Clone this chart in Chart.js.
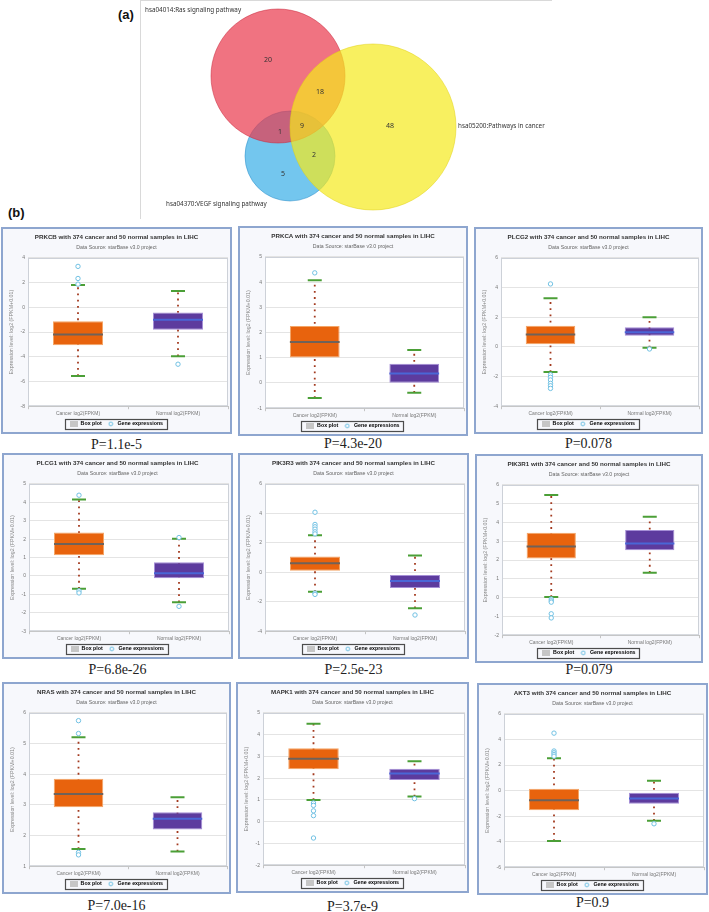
<!DOCTYPE html>
<html>
<head>
<meta charset="utf-8">
<script src="https://cdn.jsdelivr.net/npm/chart.js@4.4.1/dist/chart.umd.min.js"></script>
<style>
  body { margin: 0; background: #fff; width: 709px; height: 912px; position: relative; overflow: hidden; }
  .tag { position: absolute; font: bold 13px "Liberation Sans", Arial, sans-serif; color: #111; }
  .panel { position: absolute; border: 2px solid #8ea6cf; background: #f7f8fc; box-sizing: border-box; }
  .panel canvas { position: absolute; left: 0; top: 0; }
  .pval { position: absolute; text-align: center; font: 14px/16px "Liberation Serif", "Times New Roman", serif; color: #222; }
  #vennBox { position: absolute; left: 140px; top: 0; width: 411px; height: 218px; border-left: 1px solid #d9d9d9; border-top: 1px solid #d9d9d9; }
  #venn { position: absolute; left: 0; top: 0; }
</style>
</head>
<body>
<div class="tag" style="left:118px;top:7px">(a)</div>
<div class="tag" style="left:8px;top:205px">(b)</div>
<div id="vennBox"><canvas id="venn" width="420" height="218"></canvas></div>

<script>
// venn diagram (a)
const vennSets = ['hsa04014:Ras signaling pathway', 'hsa05200:Pathways in cancer', 'hsa04370:VEGF signaling pathway'];
// Ras only, Cancer only, VEGF only, Ras&Cancer, Ras&VEGF, Cancer&VEGF, all three
const vennRegionCounts = [20, 48, 5, 18, 1, 2, 9];

// box plots (b)
const genes = ['PRKCB', 'PRKCA', 'PLCG2', 'PLCG1', 'PIK3R3', 'PIK3R1', 'NRAS', 'MAPK1', 'AKT3'];
const pValues = ['P=1.1e-5', 'P=4.3e-20', 'P=0.078', 'P=6.8e-26', 'P=2.5e-23', 'P=0.079', 'P=7.0e-16', 'P=3.7e-9', 'P=0.9'];
const groups = ['Cancer log2(FPKM)', 'Normal log2(FPKM)'];

// [lower whisker, Q1, median, Q3, upper whisker]
const cancerBox = [
  [-5.55, -3.07, -2.2, -1.12, 1.82],
  [-0.6, 1.01, 1.63, 2.26, 4.08],
  [-1.70, 0.18, 0.83, 1.43, 3.29],
  [-0.70, 1.13, 1.74, 2.36, 4.15],
  [-1.32, 0.10, 0.62, 1.08, 2.52],
  [0.03, 2.08, 2.72, 3.46, 5.47],
  [1.56, 2.92, 3.36, 3.85, 5.21],
  [1.0, 2.41, 2.89, 3.38, 4.5],
  [-3.95, -1.53, -0.75, 0.14, 2.53]
];
const normalBox = [
  [-3.95, -1.82, -1.0, -0.41, 1.33],
  [-0.39, 0.01, 0.38, 0.76, 1.31],
  [-0.05, 0.76, 0.99, 1.33, 2.0],
  [-1.43, -0.12, 0.15, 0.74, 2.03],
  [-2.44, -1.07, -0.59, -0.18, 1.15],
  [1.32, 2.52, 2.88, 3.60, 4.31],
  [1.48, 2.20, 2.55, 2.76, 3.25],
  [1.16, 1.92, 2.22, 2.44, 2.78],
  [-2.36, -1.04, -0.61, -0.16, 0.78]
];
const cancerOutliers = [
  [3.32, 2.34, 1.88],
  [4.37],
  [4.25, -1.88, -2.05, -2.23, -2.46, -2.62, -2.8],
  [4.39, -0.81, -0.92],
  [4.08, 3.25, 3.09, 2.93, 2.75, 2.61, -1.41, -1.5],
  [-0.08, -0.17, -0.24, -0.86, -1.08],
  [5.75, 5.33, 1.45, 1.37],
  [0.86, 0.75, 0.5, 0.28, -0.75],
  [4.5, 3.1, 2.96, 2.83, 2.69]
];
const normalOutliers = [
  [-4.6], [], [-0.14], [2.09, -1.65], [-2.9], [], [], [1.06], [-2.6]
];
const yMin = [-8, -1, -4, -3, -4, -2, 1, -2, -6];
const yMax = [4, 5, 6, 5, 6, 6, 6, 5, 6];
const yStep = [2, 1, 2, 1, 2, 1, 1, 1, 2];

// layout only
const panelBoxes = [
  [1, 227, 231, 207], [238, 226, 230, 210], [474, 227, 229, 207],
  [2, 453, 231, 206], [238, 453, 231, 206], [475, 454, 228, 209],
  [2, 682, 229, 212], [236, 682, 233, 211], [477, 683, 231, 212]
];
const pCenters = [445, 444, 444, 670, 670, 670, 906, 907, 903];

const vennLayout = {
  circles: [{x: 137, y: 75, r: 67}, {x: 232, y: 126, r: 83}, {x: 149, y: 155, r: 45}],
  fills: ['rgba(234,55,76,0.7)', 'rgba(245,234,28,0.7)', 'rgba(56,174,231,0.7)'],
  strokes: ['rgba(200,40,60,0.5)', 'rgba(225,210,20,0.5)', 'rgba(40,140,200,0.5)'],
  order: [2, 1, 3],
  regionPos: [[127, 59], [249, 125], [142, 173], [179, 91], [139, 131], [173, 154], [161, 125]],
  setPos: [[4, 9], [317, 125], [25, 203]]
};

Chart.defaults.font.family = '"Liberation Sans", Arial, sans-serif';
Chart.defaults.animation = false;

const vennText = {
  id: 'vennText',
  afterDatasetsDraw(chart) {
    const {ctx, scales: {x, y}} = chart;
    ctx.save();
    ctx.fillStyle = '#333';
    ctx.textBaseline = 'middle';
    ctx.textAlign = 'center';
    ctx.font = '7px "Noto Sans", sans-serif';
    vennRegionCounts.forEach((v, k) => {
      const p = vennLayout.regionPos[k];
      ctx.fillText(String(v), x.getPixelForValue(p[0]), y.getPixelForValue(p[1]));
    });
    ctx.textAlign = 'left';
    ctx.font = '6.3px "Noto Sans", sans-serif';
    vennSets.forEach((s, k) => {
      const p = vennLayout.setPos[k];
      ctx.fillText(s, x.getPixelForValue(p[0]), y.getPixelForValue(p[1]));
    });
    ctx.restore();
  }
};

new Chart(document.getElementById('venn'), {
  type: 'bubble',
  data: {
    datasets: vennSets.map((s, k) => ({
      label: s,
      data: [vennLayout.circles[k]],
      backgroundColor: vennLayout.fills[k],
      borderColor: vennLayout.strokes[k],
      borderWidth: 1,
      order: vennLayout.order[k],
      clip: false
    }))
  },
  options: {
    responsive: false,
    events: [],
    layout: {padding: 0, autoPadding: false},
    scales: {
      x: {type: 'linear', min: 0, max: 420, display: false},
      y: {type: 'linear', min: 0, max: 218, reverse: true, display: false}
    },
    plugins: {legend: {display: false}, tooltip: {enabled: false}}
  },
  plugins: [vennText]
});

// small legend icons
function makeIcon(w, h, draw) {
  const c = document.createElement('canvas');
  c.width = w; c.height = h;
  draw(c.getContext('2d'));
  return c;
}
const boxIcon = makeIcon(8, 6, g => { g.fillStyle = '#c6c6c6'; g.fillRect(0, 0, 8, 6); });
const dotIcon = makeIcon(6, 6, g => {
  g.strokeStyle = '#6fc0e2'; g.lineWidth = 1;
  g.beginPath(); g.arc(3, 3, 1.9, 0, Math.PI * 2); g.stroke();
});

const plotFrame = {
  id: 'plotFrame',
  beforeDraw(chart) {
    const {ctx, chartArea: a} = chart;
    ctx.save();
    ctx.fillStyle = '#ffffff';
    ctx.fillRect(a.left, a.top, a.width, a.height);
    ctx.restore();
  },
  beforeDatasetsDraw(chart) {
    const {ctx, chartArea: a} = chart;
    ctx.save();
    ctx.strokeStyle = '#cdd1d8';
    ctx.lineWidth = 1;
    ctx.strokeRect(a.left + 0.5, a.top + 0.5, a.width - 1, a.height - 1);
    ctx.restore();
  }
};

const legendFrame = {
  id: 'legendFrame',
  afterDraw(chart) {
    const hb = chart.legend && chart.legend.legendHitBoxes;
    if (!hb || !hb.length) return;
    const l = Math.min(...hb.map(b => b.left)) - 5;
    const r = Math.max(...hb.map(b => b.left + b.width)) + 4;
    const t = hb[0].top - 2.5;
    const b = hb[0].top + hb[0].height + 2.5;
    const ctx = chart.ctx;
    ctx.save();
    ctx.strokeStyle = '#4d4d4d';
    ctx.lineWidth = 1.2;
    ctx.strokeRect(Math.round(l) + 0.5, Math.round(t) + 0.5, Math.round(r - l), Math.round(b - t));
    ctx.restore();
  }
};

const pt = (g, y) => ({x: groups[g], y: y});

genes.forEach((gene, i) => {
  const [left, top, width, height] = panelBoxes[i];
  const panel = document.createElement('div');
  panel.className = 'panel';
  panel.style.left = left + 'px';
  panel.style.top = top + 'px';
  panel.style.width = width + 'px';
  panel.style.height = height + 'px';
  const canvas = document.createElement('canvas');
  canvas.width = width - 4;
  canvas.height = height - 4;
  panel.appendChild(canvas);
  document.body.appendChild(panel);

  const p = document.createElement('div');
  p.className = 'pval';
  p.textContent = pValues[i];
  p.style.left = left + 'px';
  p.style.width = width + 'px';
  p.style.top = (pCenters[i] - 8) + 'px';
  document.body.appendChild(p);

  const c = cancerBox[i], n = normalBox[i];
  const halfBox = ctx => {
    const a = ctx.chart.chartArea;
    return a ? (a.right - a.left) / groups.length * 0.5 / 2 : 24;
  };

  new Chart(canvas, {
    type: 'bar',
    data: {
      labels: groups,
      datasets: [
        {type: 'line', label: 'whisker cancer', data: [pt(0, c[0]), pt(0, c[4])],
          borderColor: '#a33a1f', borderWidth: 1.8, borderDash: [1.8, 4.4], pointRadius: 0, order: 5},
        {type: 'line', label: 'whisker normal', data: [pt(1, n[0]), pt(1, n[4])],
          borderColor: '#a33a1f', borderWidth: 1.8, borderDash: [1.8, 4.4], pointRadius: 0, order: 5},
        {type: 'bar', label: 'Box plot', data: [[c[1], c[3]], [n[1], n[3]]],
          backgroundColor: ['#e8630d', '#5d3b9e'], borderColor: ['#f4a566', '#a58fd6'],
          borderWidth: 1, borderSkipped: false, barPercentage: 0.5, categoryPercentage: 1, order: 4},
        {type: 'line', label: 'median', data: [pt(0, c[2]), pt(1, n[2])], showLine: false,
          pointStyle: 'line', pointRadius: halfBox, pointBorderColor: ['#6f625a', '#4a66d6'],
          pointBorderWidth: 2, order: 3},
        {type: 'line', label: 'whisker ends', data: [pt(0, c[0]), pt(0, c[4]), pt(1, n[0]), pt(1, n[4])],
          showLine: false, pointStyle: 'line', pointRadius: 7, pointBorderColor: '#4b9f37',
          pointBorderWidth: 2, order: 2},
        {type: 'line', label: 'Gene expressions',
          data: cancerOutliers[i].map(v => pt(0, v)).concat(normalOutliers[i].map(v => pt(1, v))),
          showLine: false, pointStyle: 'circle', pointRadius: 2.2, pointBorderColor: '#72c2e4',
          pointBackgroundColor: '#ffffff', pointBorderWidth: 1, order: 1}
      ]
    },
    options: {
      responsive: false,
      events: [],
      layout: {padding: {top: 0, left: 2, right: 2, bottom: -4.5}, autoPadding: false},
      scales: {
        x: {
          type: 'category',
          offset: true,
          grid: {offset: true, drawOnChartArea: false, tickLength: 3, color: '#c4c4c4'},
          border: {display: true, color: '#c4c4c4'},
          ticks: {font: {size: 5}, color: '#777', padding: 1, maxRotation: 0},
          afterFit: s => { s.height = 10; }
        },
        y: {
          min: yMin[i],
          max: yMax[i],
          ticks: {stepSize: yStep[i], font: {size: 5}, color: '#777', padding: 3},
          grid: {color: '#e4e4e4', drawTicks: false},
          border: {display: false},
          title: {display: true, text: 'Expression level: log2 (FPKM+0.01)', font: {size: 5.3}, color: '#888',
            padding: {top: 3.8, bottom: 0}},
          afterFit: s => { s.width = 23; }
        }
      },
      plugins: {
        title: {display: true, text: gene + ' with 374 cancer and 50 normal samples in LIHC',
          font: {size: 6.2, weight: 'bold'}, color: '#333', padding: {top: 4.2, bottom: 0}},
        subtitle: {display: true, text: 'Data Source: starBase v3.0 project',
          font: {size: 5.2}, color: '#666', padding: {top: 3.6, bottom: 7.5}},
        legend: {
          position: 'bottom',
          labels: {
            usePointStyle: true, pointStyleWidth: 8, padding: 5,
            font: {size: 5.3, weight: 'bold'}, color: '#333',
            generateLabels: () => [
              {text: 'Box plot', pointStyle: boxIcon, fillStyle: '#c6c6c6', strokeStyle: '#c6c6c6', lineWidth: 0, hidden: false, datasetIndex: 2},
              {text: 'Gene expressions', pointStyle: dotIcon, fillStyle: '#fff', strokeStyle: '#6fc0e2', lineWidth: 1, hidden: false, datasetIndex: 5}
            ]
          }
        },
        tooltip: {enabled: false}
      }
    },
    plugins: [plotFrame, legendFrame]
  });
});
</script>
</body>
</html>
